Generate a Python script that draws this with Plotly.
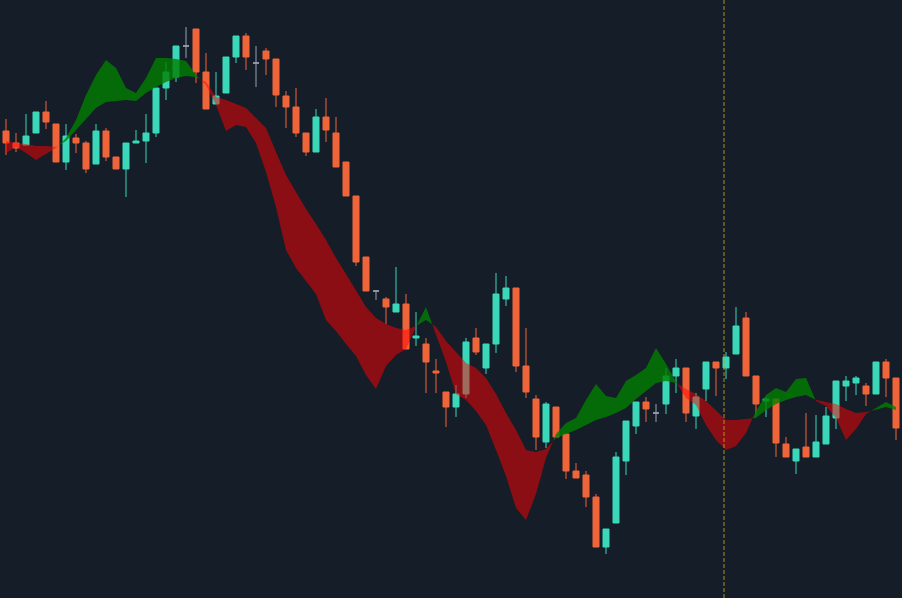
import numpy as np
import plotly.graph_objects as go

# ---- candle data (price units, arbitrary scale) ----
opens = [469, 457, 455, 467, 488, 476, 438, 462, 457, 436, 469, 443, 431, 457, 459, 467, 512, 523, 554, 571,
         528, 496, 507, 543, 564, 537, 549, 541, 504, 493, 467, 448, 483, 467, 438, 404, 343, 309, 301, 288,
         296, 262, 256, 229, 208, 193, 206, 262, 232, 256, 301, 312, 234, 201, 158, 193, 166, 129, 125, 103,
         53, 77, 139, 174, 198, 187, 196, 224, 232, 184, 211, 238, 232, 246, 282, 224, 199, 201, 156, 139,
         153, 143, 156, 182, 214, 217, 214, 206, 238, 222]
highs = [481, 467, 486, 488, 499, 476, 476, 466, 459, 476, 472, 443, 457, 470, 486, 512, 538, 554, 573, 571,
         547, 528, 543, 564, 567, 554, 552, 541, 509, 512, 467, 491, 502, 483, 438, 404, 343, 309, 303, 333,
         306, 288, 262, 241, 208, 215, 262, 272, 256, 327, 324, 312, 272, 205, 198, 193, 166, 137, 129, 106,
         71, 148, 179, 198, 203, 196, 232, 241, 232, 207, 238, 238, 248, 293, 288, 224, 203, 201, 163, 151,
         187, 185, 193, 219, 224, 224, 217, 238, 241, 222]
lows = [445, 448, 455, 467, 471, 438, 430, 447, 427, 436, 439, 431, 403, 457, 437, 463, 500, 518, 542, 517,
        491, 496, 507, 537, 530, 513, 525, 493, 472, 463, 444, 448, 458, 433, 404, 334, 309, 300, 276, 288,
        251, 254, 207, 207, 173, 183, 202, 245, 226, 247, 294, 228, 202, 150, 152, 163, 121, 122, 93, 53,
        46, 77, 125, 166, 178, 178, 186, 207, 178, 171, 199, 204, 221, 246, 224, 185, 183, 143, 143, 126,
        143, 143, 156, 171, 199, 205, 194, 206, 203, 160]
closes = [457, 452, 464, 488, 478, 438, 464, 457, 431, 469, 443, 431, 457, 459, 467, 512, 528, 554, 554, 528,
          491, 504, 543, 564, 543, 537, 541, 505, 493, 467, 448, 483, 470, 433, 404, 338, 309, 309, 293, 296,
          251, 264, 238, 227, 193, 206, 258, 248, 256, 306, 312, 234, 208, 163, 196, 163, 129, 122, 103, 53,
          71, 143, 179, 198, 191, 187, 224, 232, 187, 203, 238, 232, 243, 274, 224, 196, 201, 157, 143, 151,
          143, 158, 184, 219, 219, 222, 206, 238, 222, 172]

# ---- cloud spans ----
span_a = [447, 453, 447, 440, 446, 452, 462, 480, 505, 525, 540, 532, 512, 507, 522, 542, 542, 541, 539, 525,
          515, 495, 469, 475, 473, 457, 428, 393, 350, 332, 319, 306, 280, 269, 256, 244, 225, 211, 234, 245,
          251, 273, 293, 265, 238, 206, 200, 189, 175, 150, 124, 92, 80, 106, 142, 166, 177, 182, 200, 216,
          204, 202, 219, 225, 232, 252, 236, 218, 202, 195, 175, 160, 150, 154, 167, 189, 205, 212, 208, 221,
          222, 199, 194, 182, 160, 171, 186, 192, 198, 193]
span_b = [459, 457, 456, 454, 454, 453, 459, 471, 481, 492, 498, 499, 500, 499, 507, 513, 518, 522, 524, 523,
          518, 503, 500, 496, 492, 482, 472, 448, 425, 408, 391, 376, 360, 342, 326, 310, 293, 282, 276, 272,
          270, 274, 280, 273, 259, 248, 237, 232, 222, 206, 187, 170, 150, 148, 151, 162, 166, 170, 175, 180,
          183, 187, 192, 201, 209, 217, 219, 217, 211, 206, 199, 189, 180, 180, 181, 182, 190, 196, 200, 203,
          205, 200, 198, 196, 191, 187, 188, 190, 193, 190]

crosshair_x = 71.8

# ---- styles ----
BG = "#151d28"
UP = "#3ad8b8"
DOWN = "#f0643a"
DOJI = "#9aa3b4"
CLOUD_UP = "rgba(0,128,0,0.8)"
CLOUD_DOWN = "rgba(255,0,0,0.5)"

n = len(opens)
x = np.arange(n)
o, h, l, c = map(np.array, (opens, highs, lows, closes))

fig = go.Figure()

def add_candles(mask, col):
    idx = np.where(mask)[0]
    fig.add_trace(go.Candlestick(
        x=x[idx], open=o[idx], high=h[idx], low=l[idx], close=c[idx],
        increasing=dict(line=dict(color=col, width=1), fillcolor=col),
        decreasing=dict(line=dict(color=col, width=1), fillcolor=col),
        whiskerwidth=0, hoverinfo="skip", showlegend=False))

add_candles(c > o, UP)
add_candles(c < o, DOWN)
add_candles(c == o, DOJI)

# ---- cloud polygons split at crossings ----
A = np.array(span_a, dtype=float)
B = np.array(span_b, dtype=float)
d = A - B
segments = []
cur_x, cur_a, cur_b = [float(x[0])], [A[0]], [B[0]]
cur_sign = d[0] >= 0
for i in range(n - 1):
    s_next = d[i + 1] >= 0
    if s_next != cur_sign:
        t = d[i] / (d[i] - d[i + 1])
        xc = x[i] + t
        yc = A[i] + t * (A[i + 1] - A[i])
        cur_x.append(xc); cur_a.append(yc); cur_b.append(yc)
        segments.append((cur_sign, cur_x, cur_a, cur_b))
        cur_x, cur_a, cur_b = [xc], [yc], [yc]
        cur_sign = s_next
    cur_x.append(float(x[i + 1])); cur_a.append(A[i + 1]); cur_b.append(B[i + 1])
segments.append((cur_sign, cur_x, cur_a, cur_b))

for sign, sx, sa, sb in segments:
    px = list(sx) + list(sx[::-1])
    py = list(sa) + list(sb[::-1])
    col = CLOUD_UP if sign else CLOUD_DOWN
    fig.add_trace(go.Scatter(x=px, y=py, mode="lines", fill="toself", fillcolor=col,
                             line=dict(width=0, color=col), hoverinfo="skip", showlegend=False))

fig.add_shape(type="line", x0=crosshair_x, x1=crosshair_x, y0=0, y1=1, yref="paper",
              line=dict(color="rgba(185,160,30,0.9)", width=1, dash="4px,2px"))

fig.update_layout(
    width=902, height=598,
    margin=dict(l=0, r=0, t=0, b=0),
    paper_bgcolor=BG, plot_bgcolor=BG,
    showlegend=False,
    boxgap=0.25, boxgroupgap=0.2,
    xaxis=dict(range=[-0.6, n - 0.4], visible=False, showgrid=False, zeroline=False,
               rangeslider=dict(visible=False)),
    yaxis=dict(range=[2, 600], visible=False, showgrid=False, zeroline=False),
)

fig.write_html("out.html", config={"displayModeBar": False},
               post_script="document.body.style.margin='0';document.body.style.overflow='hidden';document.body.style.background='" + BG + "';")
